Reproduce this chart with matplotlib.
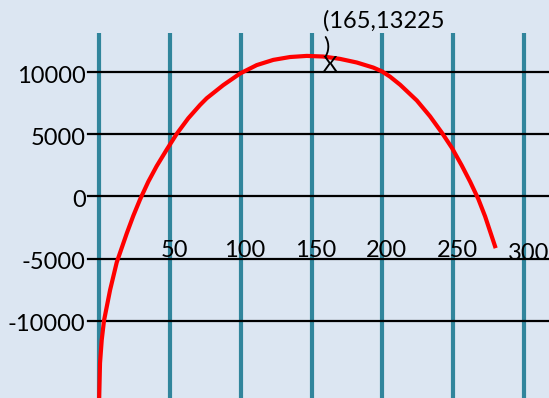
import matplotlib.pyplot as plt

# grid values
x_grid = [0, 50, 100, 150, 200, 250, 300]
y_grid = [10000, 5000, 0, -5000, -10000]
x_labels = ["50", "100", "150", "200", "250", "300"]
y_labels = ["10000", "5000", "0", "-5000", "-10000"]

# profit curve
curve_x = [0, 0.7, 1.9, 3.5, 7.8, 12.5, 19.6, 24.2, 28.9, 34.8, 40.7,
           47.8, 54.8, 63.0, 71.3, 76.0, 87.7, 99.5, 111.3, 123.0, 134.8,
           146.6, 158.3, 170.1, 181.9, 193.6, 199.6, 205.4, 212.5, 224.3,
           233.6, 241.9, 249.0, 256.0, 261.9, 267.7, 272.5, 279.5]
curve_y = [-16600, -13410, -11560, -10000, -7530, -5300, -2960, -1550,
           -250, 1200, 2450, 3780, 5040, 6300, 7370, 7910, 8970, 9900, 10580,
           11000, 11230, 11320, 11270, 11080, 10790, 10380, 10080, 9650, 9000,
           7730, 6460, 5150, 3930, 2500, 1200, -200, -1600, -4000]

vertex_label = "(165,13225\n)"
vertex_mark = (163, 10600)

plt.rcParams['font.family'] = ['Lato', 'DejaVu Sans']

fig = plt.figure(figsize=(5.49, 3.98), dpi=100)
fig.patch.set_facecolor('#dce6f2')
ax = fig.add_axes([0, 0, 1, 1])
ax.set_facecolor('#dce6f2')
ax.set_xlim(-69.9, 317.6)
ax.set_ylim(-16225, 15822)
ax.axis('off')

# vertical teal rules
for xv in x_grid:
    ax.plot([xv, xv], [-17000, 13165], color='#31859c', lw=3, zorder=1,
            solid_capstyle='butt')

# horizontal black rules
for yv in y_grid:
    ax.plot([-7.8, 330], [yv, yv], color='black', lw=1.6, zorder=2)

# y labels
for yv, lab in zip(y_grid, y_labels):
    ax.annotate(lab, xy=(-9.5, yv), xytext=(0, -4), textcoords='offset pixels',
                ha='right', va='center', fontsize=17, zorder=3)

# x labels sit on the -5000 rule
for xv, lab in zip(x_grid[1:], x_labels):
    dy = -1 if lab == "300" else 2
    ax.annotate(lab, xy=(xv + 3, -5000), xytext=(0, dy), textcoords='offset pixels',
                ha='center', va='baseline', fontsize=17, zorder=3)

ax.plot(curve_x, curve_y, color='#ff0000', lw=3, zorder=4,
        solid_joinstyle='round')

ax.text(vertex_mark[0], vertex_mark[1], "X", ha='center', va='center',
        fontsize=16, zorder=5)
ax.text(158, 15000, vertex_label, ha='left', va='top', fontsize=17,
        linespacing=1.25, zorder=5)

fig.savefig('out.png', dpi=100, facecolor=fig.get_facecolor())
